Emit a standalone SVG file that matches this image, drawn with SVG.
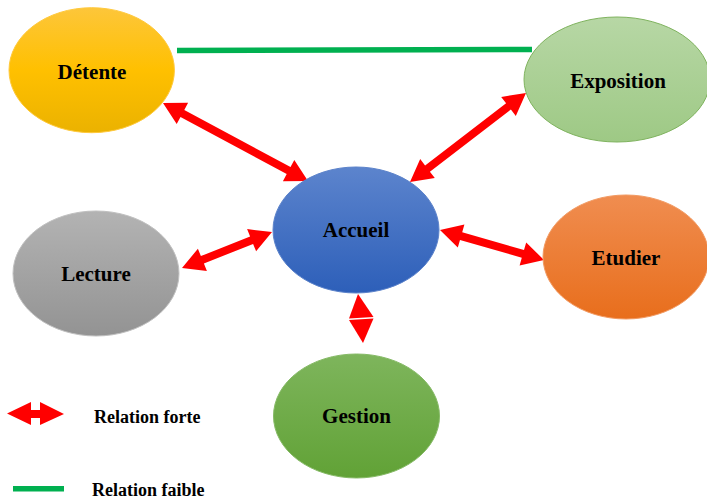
<svg xmlns="http://www.w3.org/2000/svg" width="707" height="502" viewBox="0 0 707 502">
  <defs>
    <linearGradient id="gYellow" x1="0" y1="0" x2="0" y2="1">
      <stop offset="0" stop-color="#FDC63A"/>
      <stop offset="0.5" stop-color="#FFC000"/>
      <stop offset="1" stop-color="#EBB200"/>
    </linearGradient>
    <linearGradient id="gLightGreen" x1="0" y1="0" x2="0" y2="1">
      <stop offset="0" stop-color="#B7D7A5"/>
      <stop offset="1" stop-color="#9EC985"/>
    </linearGradient>
    <linearGradient id="gBlue" x1="0" y1="0" x2="0" y2="1">
      <stop offset="0" stop-color="#5C84CD"/>
      <stop offset="1" stop-color="#2D5FB9"/>
    </linearGradient>
    <linearGradient id="gGrey" x1="0" y1="0" x2="0" y2="1">
      <stop offset="0" stop-color="#B3B3B3"/>
      <stop offset="1" stop-color="#939393"/>
    </linearGradient>
    <linearGradient id="gOrange" x1="0" y1="0" x2="0" y2="1">
      <stop offset="0" stop-color="#F08D50"/>
      <stop offset="1" stop-color="#E86E1C"/>
    </linearGradient>
    <linearGradient id="gGreen" x1="0" y1="0" x2="0" y2="1">
      <stop offset="0" stop-color="#7EB55C"/>
      <stop offset="1" stop-color="#61A236"/>
    </linearGradient>
  </defs>
  <style>
    .label { font-family: "Liberation Serif", "Times New Roman", serif; font-weight: bold; font-size: 21px; fill: #000; text-anchor: middle; }
    .legend { font-family: "Liberation Serif", "Times New Roman", serif; font-weight: bold; font-size: 18px; fill: #000; }
    .strong { fill: #FF0000; }
    .weak { stroke: #00B050; stroke-width: 5.5; fill: none; }
  </style>

  <rect width="707" height="502" fill="#FFFFFF"/>

  <!-- connectors -->
  <g id="connectors">
    <line class="weak" x1="177" y1="50.5" x2="532" y2="49.5"/>
    <!-- Détente <-> Accueil -->
    <polygon class="strong" points="163,103 176.7,124 180.5,116.9 286.7,174.1 282.9,181.2 308,181 294.3,160 290.5,167.1 184.3,109.9 188.1,102.8"/>
    <!-- Exposition <-> Accueil -->
    <polygon class="strong" points="526,93 501.2,96.9 506.1,103.2 425.1,165.4 420.2,159.1 410,182 434.8,178.1 429.9,171.8 510.9,109.6 515.8,115.9"/>
    <!-- Lecture <-> Accueil -->
    <polygon class="strong" points="182,268 206.9,270.9 203.9,263.5 253.1,243.9 256.1,251.3 272,232 247.1,229.1 250.1,236.5 200.9,256.1 197.9,248.7"/>
    <!-- Accueil <-> Etudier -->
    <polygon class="strong" points="440,230 457.8,247.6 460,239.9 521.8,257.7 519.6,265.4 544,260 526.2,242.4 524,250.1 462.2,232.3 464.4,224.6"/>
    <!-- Accueil <-> Gestion -->
    <polygon class="strong" points="358,294 373.5,317 349,318.5"/>
    <polygon class="strong" points="349,320 373.5,318.5 363,343"/>
  </g>

  <!-- nodes -->
  <g id="node-detente">
    <ellipse cx="91.7" cy="70.2" rx="82.7" ry="62.5" fill="url(#gYellow)" stroke="#FFC93C" stroke-width="1"/>
    <text class="label" x="92" y="79">Détente</text>
  </g>
  <g id="node-exposition">
    <ellipse cx="617" cy="79.5" rx="93" ry="62.5" fill="url(#gLightGreen)" stroke="#7FB35E" stroke-width="1"/>
    <text class="label" x="618" y="88">Exposition</text>
  </g>
  <g id="node-accueil">
    <ellipse cx="356" cy="230" rx="83" ry="63" fill="url(#gBlue)" stroke="#5B82CA" stroke-width="1"/>
    <text class="label" x="356" y="237">Accueil</text>
  </g>
  <g id="node-lecture">
    <ellipse cx="96" cy="273.5" rx="83" ry="62.5" fill="url(#gGrey)" stroke="#C0C0C0" stroke-width="1"/>
    <text class="label" x="96" y="281">Lecture</text>
  </g>
  <g id="node-etudier">
    <ellipse cx="626" cy="257" rx="83" ry="62" fill="url(#gOrange)" stroke="#F29A62" stroke-width="1"/>
    <text class="label" x="626" y="265">Etudier</text>
  </g>
  <g id="node-gestion">
    <ellipse cx="356.5" cy="416" rx="83" ry="62" fill="url(#gGreen)" stroke="#86BA66" stroke-width="1"/>
    <text class="label" x="356.5" y="423">Gestion</text>
  </g>

  <!-- legend -->
  <g id="legend">
    <polygon class="strong" points="7,413.5 31,402 31,410 40,410 40,402 64,414 40,425 40,418 31,418 31,425"/>
    <text class="legend" x="94" y="423">Relation forte</text>
    <line class="weak" x1="13" y1="488.7" x2="64" y2="488.7"/>
    <text class="legend" x="92" y="496">Relation faible</text>
  </g>
</svg>
